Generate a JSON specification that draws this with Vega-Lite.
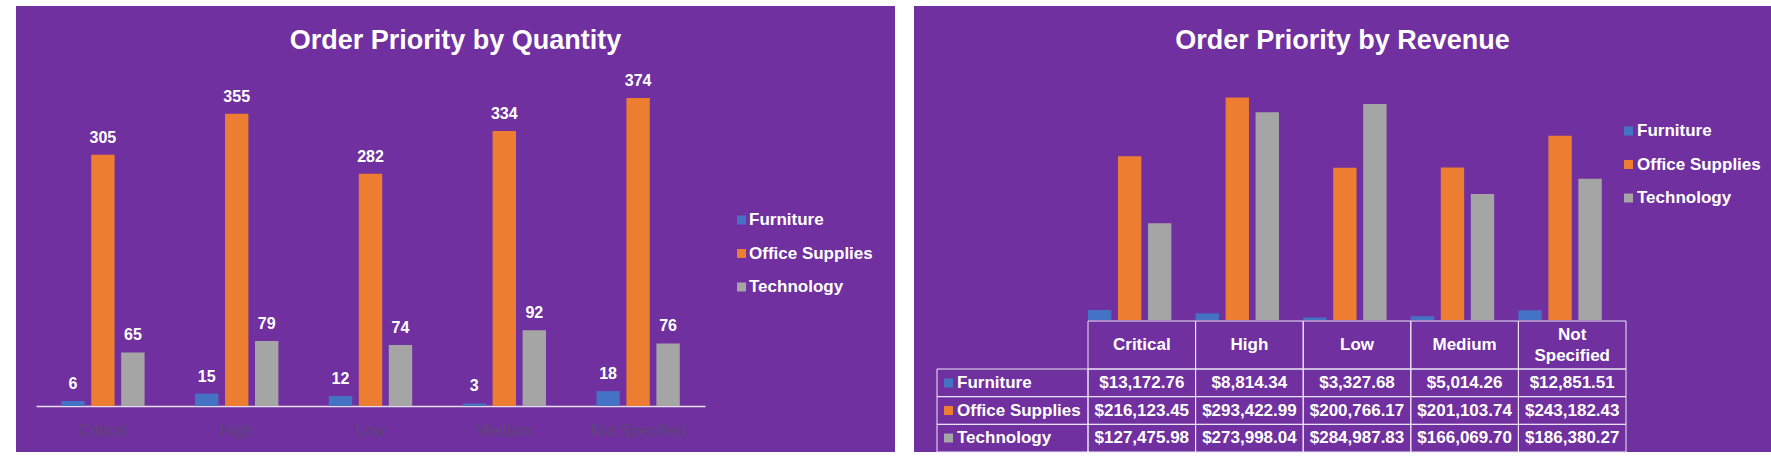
{
  "$schema": "https://vega.github.io/schema/vega-lite/v6.json",
  "background": "white",
  "padding": {"left": 16, "top": 6, "right": 0, "bottom": 8},
  "spacing": 19,
  "resolve": {"scale": {"color": "independent", "fill": "independent"}, "legend": {"color": "independent", "fill": "independent"}},
  "config": {
    "view": {"stroke": null, "fill": "#7030A0"},
    "font": "Liberation Sans",
    "axis": {"grid": false},
    "legend": {"padding": 0}
  },
  "datasets": {
    "qty": [
      {"priority": "Critical", "category": "Furniture", "quantity": 6},
      {"priority": "Critical", "category": "Office Supplies", "quantity": 305},
      {"priority": "Critical", "category": "Technology", "quantity": 65},
      {"priority": "High", "category": "Furniture", "quantity": 15},
      {"priority": "High", "category": "Office Supplies", "quantity": 355},
      {"priority": "High", "category": "Technology", "quantity": 79},
      {"priority": "Low", "category": "Furniture", "quantity": 12},
      {"priority": "Low", "category": "Office Supplies", "quantity": 282},
      {"priority": "Low", "category": "Technology", "quantity": 74},
      {"priority": "Medium", "category": "Furniture", "quantity": 3},
      {"priority": "Medium", "category": "Office Supplies", "quantity": 334},
      {"priority": "Medium", "category": "Technology", "quantity": 92},
      {"priority": "Not Specified", "category": "Furniture", "quantity": 18},
      {"priority": "Not Specified", "category": "Office Supplies", "quantity": 374},
      {"priority": "Not Specified", "category": "Technology", "quantity": 76}
    ],
    "rev": [
      {"priority": "Critical", "category": "Furniture", "revenue": 13172.76},
      {"priority": "Critical", "category": "Office Supplies", "revenue": 216123.45},
      {"priority": "Critical", "category": "Technology", "revenue": 127475.98},
      {"priority": "High", "category": "Furniture", "revenue": 8814.34},
      {"priority": "High", "category": "Office Supplies", "revenue": 293422.99},
      {"priority": "High", "category": "Technology", "revenue": 273998.04},
      {"priority": "Low", "category": "Furniture", "revenue": 3327.68},
      {"priority": "Low", "category": "Office Supplies", "revenue": 200766.17},
      {"priority": "Low", "category": "Technology", "revenue": 284987.83},
      {"priority": "Medium", "category": "Furniture", "revenue": 5014.26},
      {"priority": "Medium", "category": "Office Supplies", "revenue": 201103.74},
      {"priority": "Medium", "category": "Technology", "revenue": 166069.70},
      {"priority": "Not Specified", "category": "Furniture", "revenue": 12851.51},
      {"priority": "Not Specified", "category": "Office Supplies", "revenue": 243182.43},
      {"priority": "Not Specified", "category": "Technology", "revenue": 186380.27}
    ],
    "pri": [
      {"priority": "Critical"},
      {"priority": "High"},
      {"priority": "Low"},
      {"priority": "Medium"},
      {"priority": "Not Specified"}
    ],
    "rows": [
      {"row": "Furniture"},
      {"row": "Office Supplies"},
      {"row": "Technology"}
    ]
  },
  "hconcat": [
    {
      "width": 879,
      "height": 446,
      "title": {"text": "Order Priority by Quantity", "offset": -62, "baseline": "middle", "fontSize": 27, "fontWeight": "bold", "color": "white", "font": "Liberation Sans", "frame": "group", "anchor": "middle"},
      "data": {"name": "qty"},
      "layer": [
        {
          "mark": {"type": "bar"},
          "encoding": {
            "x": {"field": "priority", "type": "nominal", "sort": null,
              "scale": {"range": [20, 689], "paddingInner": 0.377, "paddingOuter": 0.1885},
              "axis": {"orient": "bottom", "offset": -46, "title": null, "ticks": false, "tickSize": 0, "domainColor": "#e6ddf0", "domainWidth": 1.5, "labelColor": "#5e4677", "labelFontSize": 16, "labelFont": "Liberation Sans", "labelPadding": 16, "labelBaseline": "top", "labelAngle": 0}},
            "xOffset": {"field": "category", "type": "nominal", "sort": null, "scale": {"paddingInner": 0.22, "paddingOuter": 0}},
            "y": {"field": "quantity", "type": "quantitative", "scale": {"domain": [-55.9, 485.7], "nice": false}, "axis": null},
            "color": {"field": "category", "type": "nominal",
              "scale": {"domain": ["Furniture", "Office Supplies", "Technology"], "range": ["#4472C4", "#ED7D31", "#A5A5A5"]},
              "legend": {"orient": "none", "legendX": 717, "legendY": 205.5, "title": null, "direction": "vertical", "symbolType": "square", "symbolSize": 81, "symbolStrokeWidth": 0, "labelOffset": -1, "rowPadding": 15.5, "labelFontSize": 17, "labelFontWeight": "bold", "labelColor": "white", "labelFont": "Liberation Sans"}}
          }
        },
        {
          "mark": {"type": "text", "dy": -17, "baseline": "middle", "fontSize": 16, "fontWeight": "bold", "color": "white", "font": "Liberation Sans"},
          "encoding": {
            "x": {"field": "priority", "type": "nominal", "sort": null},
            "xOffset": {"field": "category", "type": "nominal", "sort": null},
            "y": {"field": "quantity", "type": "quantitative"},
            "text": {"field": "quantity", "type": "quantitative"}
          }
        }
      ]
    },
    {
      "width": 857,
      "height": 446,
      "title": {"text": "Order Priority by Revenue", "offset": -62, "baseline": "middle", "fontSize": 27, "fontWeight": "bold", "color": "white", "font": "Liberation Sans", "frame": "group", "anchor": "middle"},
      "resolve": {"scale": {"x": "independent", "y": "independent"}},
      "layer": [
        {
          "data": {"name": "rev"},
          "mark": {"type": "bar"},
          "encoding": {
            "x": {"field": "priority", "type": "nominal", "sort": null, "scale": {"domain": ["Critical", "High", "Low", "Medium", "Not Specified"], "range": [174, 712], "paddingInner": 0, "paddingOuter": 0}, "axis": null},
            "xOffset": {"field": "category", "type": "nominal", "sort": null, "scale": {"domain": ["Furniture", "Office Supplies", "Technology"], "paddingInner": 0.25, "paddingOuter": 0.867}},
            "y": {"field": "revenue", "type": "quantitative", "scale": {"domain": [-174142, 414248], "nice": false}, "axis": null},
            "color": {"field": "category", "type": "nominal",
              "scale": {"domain": ["Furniture", "Office Supplies", "Technology"], "range": ["#4472C4", "#ED7D31", "#A5A5A5"]},
              "legend": {"orient": "none", "legendX": 706, "legendY": 116.5, "title": null, "direction": "vertical", "symbolType": "square", "symbolSize": 81, "symbolStrokeWidth": 0, "labelOffset": 0, "rowPadding": 15.5, "labelFontSize": 17, "labelFontWeight": "bold", "labelColor": "white", "labelFont": "Liberation Sans"}}
          }
        },
        {
          "data": {"name": "pri"},
          "mark": {"type": "rect", "filled": false, "stroke": "#ece6f4", "strokeWidth": 1},
          "encoding": {
            "x": {"field": "priority", "type": "nominal", "sort": null, "scale": {"domain": ["Critical", "High", "Low", "Medium", "Not Specified"], "range": [174, 712], "paddingInner": 0, "paddingOuter": 0}, "axis": null},
            "y": {"datum": "h", "type": "nominal", "scale": {"domain": ["h"], "range": [315, 363], "paddingInner": 0, "paddingOuter": 0}, "axis": null}
          }
        },
        {
          "data": {"name": "pri"},
          "transform": [{"filter": "datum.priority !== 'Not Specified'"}],
          "mark": {"type": "text", "baseline": "middle", "fontSize": 17, "fontWeight": "bold", "color": "white", "font": "Liberation Sans"},
          "encoding": {
            "x": {"field": "priority", "type": "nominal", "sort": null, "scale": {"domain": ["Critical", "High", "Low", "Medium", "Not Specified"], "range": [174, 712], "paddingInner": 0, "paddingOuter": 0}, "axis": null},
            "y": {"datum": "h", "type": "nominal", "scale": {"domain": ["h"], "range": [315, 363], "paddingInner": 0, "paddingOuter": 0}, "axis": null},
            "text": {"field": "priority", "type": "nominal"}
          }
        },
        {
          "data": {"name": "pri"},
          "transform": [{"filter": "datum.priority === 'Not Specified'"}],
          "mark": {"type": "text", "lineBreak": " ", "lineHeight": 21, "dy": -10.5, "baseline": "middle", "fontSize": 17, "fontWeight": "bold", "color": "white", "font": "Liberation Sans"},
          "encoding": {
            "x": {"field": "priority", "type": "nominal", "sort": null, "scale": {"domain": ["Critical", "High", "Low", "Medium", "Not Specified"], "range": [174, 712], "paddingInner": 0, "paddingOuter": 0}, "axis": null},
            "y": {"datum": "h", "type": "nominal", "scale": {"domain": ["h"], "range": [315, 363], "paddingInner": 0, "paddingOuter": 0}, "axis": null},
            "text": {"field": "priority", "type": "nominal"}
          }
        },
        {
          "data": {"name": "rev"},
          "mark": {"type": "rect", "filled": false, "stroke": "#ece6f4", "strokeWidth": 1},
          "encoding": {
            "x": {"field": "priority", "type": "nominal", "sort": null, "scale": {"domain": ["Critical", "High", "Low", "Medium", "Not Specified"], "range": [174, 712], "paddingInner": 0, "paddingOuter": 0}, "axis": null},
            "y": {"field": "category", "type": "nominal", "sort": null, "scale": {"domain": ["Furniture", "Office Supplies", "Technology"], "range": [363, 446], "paddingInner": 0, "paddingOuter": 0}, "axis": null}
          }
        },
        {
          "data": {"name": "rev"},
          "mark": {"type": "text", "baseline": "middle", "fontSize": 17, "fontWeight": "bold", "color": "white", "font": "Liberation Sans"},
          "encoding": {
            "x": {"field": "priority", "type": "nominal", "sort": null, "scale": {"domain": ["Critical", "High", "Low", "Medium", "Not Specified"], "range": [174, 712], "paddingInner": 0, "paddingOuter": 0}, "axis": null},
            "y": {"field": "category", "type": "nominal", "sort": null, "scale": {"domain": ["Furniture", "Office Supplies", "Technology"], "range": [363, 446], "paddingInner": 0, "paddingOuter": 0}, "axis": null},
            "text": {"field": "revenue", "type": "quantitative", "format": "$,.2f"}
          }
        },
        {
          "data": {"name": "rows"},
          "mark": {"type": "rect", "filled": false, "stroke": "#ece6f4", "strokeWidth": 1},
          "encoding": {
            "x": {"datum": "lbl", "type": "nominal", "scale": {"domain": ["lbl"], "range": [23, 174], "paddingInner": 0, "paddingOuter": 0}, "axis": null},
            "y": {"field": "row", "type": "nominal", "sort": null, "scale": {"domain": ["Furniture", "Office Supplies", "Technology"], "range": [363, 446], "paddingInner": 0, "paddingOuter": 0}, "axis": null}
          }
        },
        {
          "data": {"name": "rows"},
          "mark": {"type": "square", "size": 0},
          "encoding": {
            "x": {"datum": "lbl", "type": "nominal", "scale": {"domain": ["lbl"], "range": [23, 174], "paddingInner": 0, "paddingOuter": 0}, "axis": null},
            "y": {"field": "row", "type": "nominal", "sort": null, "scale": {"domain": ["Furniture", "Office Supplies", "Technology"], "range": [363, 446], "paddingInner": 0, "paddingOuter": 0}, "axis": null},
            "fill": {"field": "row", "type": "nominal", "sort": null,
              "scale": {"range": ["#4472C4", "#ED7D31", "#A5A5A5"]},
              "legend": {"orient": "none", "legendX": 26, "legendY": 368.5, "title": null, "direction": "vertical", "symbolType": "square", "symbolSize": 81, "symbolStrokeWidth": 0, "symbolOpacity": 1, "labelOffset": 0, "rowPadding": 9.5, "labelFontSize": 17, "labelFontWeight": "bold", "labelColor": "white", "labelFont": "Liberation Sans"}}
          }
        }
      ]
    }
  ]
}
